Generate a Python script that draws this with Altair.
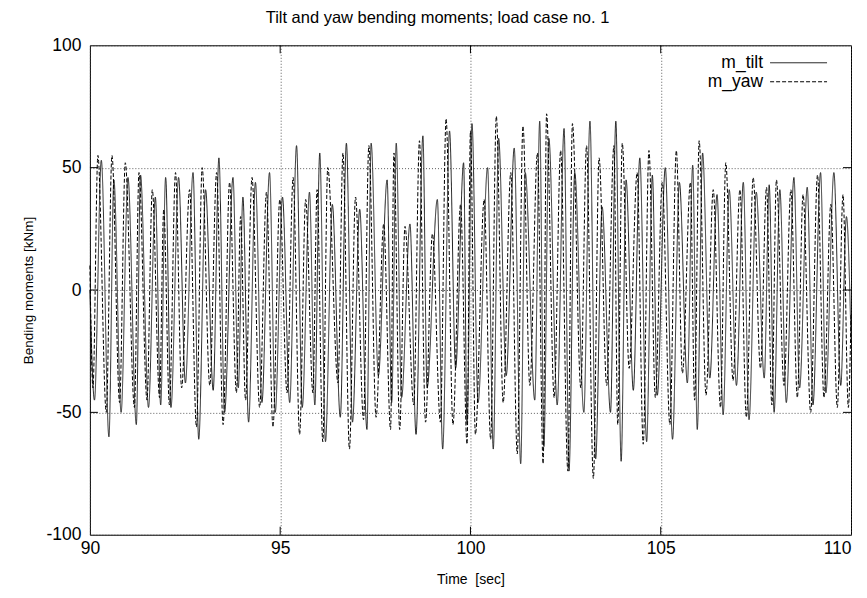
import altair as alt
import pandas as pd

# (time [sec], moment [kNm]) extrema
tilt = [
    (90.00, 0), (90.12, -45), (90.30, 53), (90.50, -60), (90.63, 45), (90.82, -50),
    (91.00, 46), (91.22, -55), (91.33, 47), (91.54, -48), (91.72, 38), (91.86, -47),
    (91.99, 46), (92.13, -48), (92.33, 46), (92.51, -38), (92.71, 48), (92.86, -61),
    (93.04, 41), (93.24, -41), (93.39, 54), (93.54, -50), (93.76, 46), (93.90, -40),
    (94.02, 38), (94.17, -54), (94.35, 44), (94.52, -46), (94.72, 48), (94.87, -50),
    (95.06, 38), (95.25, -46), (95.43, 59), (95.58, -48), (95.77, 40), (95.91, -47),
    (96.04, 56), (96.19, -62), (96.37, 35), (96.58, -52), (96.74, 60), (96.90, -54),
    (97.09, 33), (97.28, -57), (97.39, 60), (97.58, -35), (97.81, 45), (97.93, -46),
    (98.05, 60), (98.19, -44), (98.41, 27), (98.57, -59), (98.75, 63), (98.86, -40),
    (99.13, 37), (99.27, -65), (99.45, 65), (99.61, -32), (99.82, 52), (99.91, -55),
    (100.04, 68), (100.20, -46), (100.45, 50), (100.60, -65), (100.74, 62), (100.94, -35),
    (101.15, 58), (101.32, -71), (101.44, 48), (101.69, -45), (101.82, 69), (101.93, -64),
    (102.06, 62), (102.28, -47), (102.46, 66), (102.59, -74), (102.74, 48), (102.98, -50),
    (103.14, 69), (103.29, -69), (103.46, 34), (103.68, -50), (103.82, 69), (103.96, -70),
    (104.09, 45), (104.28, -41), (104.45, 54), (104.63, -62), (104.78, 47), (104.91, -43),
    (105.12, 50), (105.31, -61), (105.49, 44), (105.70, -38), (105.84, 51), (105.96, -57),
    (106.10, 56), (106.29, -36), (106.48, 39), (106.64, -51), (106.80, 41), (106.99, -39),
    (107.17, 44), (107.32, -53), (107.51, 40), (107.72, -36), (107.85, 43), (107.98, -50),
    (108.13, 41), (108.30, -46), (108.50, 46), (108.65, -40), (108.85, 42), (109.00, -47),
    (109.20, 48), (109.34, -42), (109.55, 48), (109.73, -39), (109.88, 30), (110.00, -20),
]

yaw = [
    (90.00, 10), (90.08, -40), (90.21, 55), (90.43, -50), (90.58, 55), (90.78, -46),
    (90.93, 52), (91.17, -48), (91.29, 48), (91.50, -45), (91.64, 41), (91.83, -44),
    (91.94, 33), (92.09, -47), (92.25, 48), (92.41, -40), (92.62, 41), (92.80, -56),
    (92.95, 50), (93.15, -39), (93.33, 48), (93.50, -55), (93.67, 44), (93.85, -42),
    (93.96, 30), (94.09, -45), (94.26, 46), (94.46, -48), (94.64, 40), (94.81, -56),
    (94.99, 37), (95.18, -42), (95.34, 46), (95.51, -59), (95.67, 37), (95.86, -42),
    (95.97, 41), (96.12, -62), (96.25, 50), (96.52, -38), (96.65, 56), (96.82, -65),
    (96.98, 38), (97.19, -53), (97.33, 59), (97.52, -52), (97.72, 27), (97.90, -57),
    (97.99, 56), (98.14, -57), (98.28, 26), (98.51, -47), (98.66, 61), (98.82, -54),
    (99.00, 23), (99.21, -54), (99.36, 70), (99.54, -55), (99.74, 35), (99.91, -63),
    (100.00, 65), (100.13, -59), (100.36, 37), (100.53, -61), (100.68, 71), (100.86, -46),
    (101.06, 48), (101.23, -67), (101.38, 67), (101.56, -39), (101.76, 56), (101.91, -71),
    (102.00, 72), (102.20, -44), (102.37, 57), (102.56, -74), (102.68, 68), (102.90, -40),
    (103.05, 59), (103.23, -77), (103.38, 54), (103.58, -39), (103.77, 59), (103.87, -55),
    (103.99, 60), (104.17, -32), (104.38, 48), (104.54, -63), (104.69, 57), (104.86, -44),
    (105.04, 44), (105.24, -55), (105.41, 57), (105.57, -34), (105.78, 44), (105.89, -45),
    (106.01, 61), (106.19, -43), (106.38, 41), (106.57, -48), (106.71, 52), (106.90, -37),
    (107.08, 41), (107.25, -52), (107.43, 46), (107.62, -32), (107.78, 42), (107.92, -47),
    (108.04, 45), (108.24, -39), (108.42, 41), (108.59, -44), (108.74, 39), (108.94, -50),
    (109.12, 47), (109.29, -44), (109.47, 35), (109.64, -48), (109.79, 39), (109.93, -48),
    (110.00, -10),
]

series_names = ["m_tilt", "m_yaw"]
x_ticks = [90, 95, 100, 105, 110]
y_ticks = [-100, -50, 0, 50, 100]

FONT = "Liberation Sans"
W, H = 762, 490
LABEL_SIZE = 17.5

df = pd.concat([
    pd.DataFrame({"t": [p[0] for p in tilt], "v": [p[1] for p in tilt], "s": series_names[0]}),
    pd.DataFrame({"t": [p[0] for p in yaw], "v": [p[1] for p in yaw], "s": series_names[1]}),
], ignore_index=True)

x_axis = alt.Axis(values=x_ticks, title="Time \u00a0[sec]", grid=True, tickSize=0,
                  labelPadding=5, titlePadding=15, domain=False, labelFlush=False,
                  labelAlign={"condition": {"test": "datum.value >= 110", "value": "right"},
                              "value": "center"},
                  labelExpr="toString(datum.value)")
y_axis = alt.Axis(values=y_ticks, title="Bending moments [kNm]", grid=True, tickSize=0,
                  labelPadding=9, titlePadding=10, domain=False, titleFontSize=13.5,
                  labelFlush=False, labelExpr="toString(datum.value)")
x_scale = alt.Scale(domain=[90, 110], nice=False, zero=False)
y_scale = alt.Scale(domain=[-100, 100], nice=False)

lines = alt.Chart(df).mark_line(interpolate="monotone", strokeWidth=1).encode(
    x=alt.X("t:Q", scale=x_scale, axis=x_axis),
    y=alt.Y("v:Q", scale=y_scale, axis=y_axis),
    color=alt.Color("s:N", scale=alt.Scale(domain=series_names, range=["#222222", "#000000"]), legend=None),
    strokeDash=alt.StrokeDash("s:N", scale=alt.Scale(domain=series_names, range=[[1, 0], [4, 2]]), legend=None),
    order=alt.Order("t:Q"),
)

xt = pd.DataFrame({"t": x_ticks[1:-1]})
yt = pd.DataFrame({"v": y_ticks[1:-1]})
xtick_b = alt.Chart(xt).mark_rule(color="black", strokeWidth=1).encode(
    x=alt.X("t:Q", scale=x_scale, axis=x_axis), y=alt.value(H), y2=alt.value(H - 8))
xtick_t = alt.Chart(xt).mark_rule(color="black", strokeWidth=1).encode(
    x=alt.X("t:Q", scale=x_scale, axis=x_axis), y=alt.value(0), y2=alt.value(8))
ytick_l = alt.Chart(yt).mark_rule(color="black", strokeWidth=1).encode(
    y=alt.Y("v:Q", scale=y_scale, axis=y_axis), x=alt.value(0), x2=alt.value(8))
ytick_r = alt.Chart(yt).mark_rule(color="black", strokeWidth=1).encode(
    y=alt.Y("v:Q", scale=y_scale, axis=y_axis), x=alt.value(W - 8), x2=alt.value(W))

leg_layers = []
for i, (name, col, dash) in enumerate(zip(series_names, ["#222222", "#000000"], [[1, 0], [4, 2]])):
    ly = 17.5 + i * 19
    d = pd.DataFrame({"s": [name]})
    leg_layers.append(alt.Chart(d).mark_text(align="right", baseline="middle", font=FONT,
                                             fontSize=LABEL_SIZE, color="black").encode(
        text="s:N", x=alt.value(674), y=alt.value(ly)))
    leg_layers.append(alt.Chart(d).mark_rule(color=col, strokeWidth=1, strokeDash=dash).encode(
        x=alt.value(681), x2=alt.value(738), y=alt.value(ly)))

chart = alt.layer(lines, xtick_b, xtick_t, ytick_l, ytick_r, *leg_layers).properties(
    width=W, height=H,
    title=alt.TitleParams("Tilt and yaw bending moments; load case no. 1", font=FONT,
                          fontSize=16.5, fontWeight="normal", color="black", offset=10,
                          frame="bounds", anchor="middle"),
    autosize=alt.AutoSizeParams(type="none"),
    padding={"left": 82, "top": 37, "right": 8, "bottom": 54},
).configure_view(stroke="black", strokeWidth=1).configure_axis(
    labelFont=FONT, labelFontSize=LABEL_SIZE, labelColor="black",
    titleFont=FONT, titleFontSize=14, titleFontWeight="normal", titleColor="black",
    gridColor="#333333", gridDash=[1, 2], gridWidth=0.8, gridOpacity=1,
)

chart.save("out.html", embed_options={"renderer": "svg", "actions": False})
